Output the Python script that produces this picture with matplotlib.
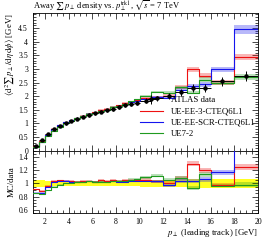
import numpy as np, matplotlib
matplotlib.use("Agg")
import matplotlib.pyplot as plt
from matplotlib.ticker import MultipleLocator

matplotlib.rcParams.update({
    "font.family": "serif", "font.serif": ["Liberation Serif", "DejaVu Serif"],
    "mathtext.fontset": "stix", "font.size": 6,
    "axes.linewidth": 0.6,
})

C_RED = "#ee1111"; C_BLUE = "#1515ee"; C_GREEN = "#1f9a1f"; C_BAND = "#ffff22"

# bin edges in leading-track pT [GeV]
edges = [1.0, 1.5, 2.0, 2.5, 3.0, 3.5, 4.0, 4.5, 5.0, 5.5, 6.0, 6.5, 7.0, 7.5, 8.0,
         8.5, 9.0, 9.5, 10.0, 11.0, 12.0, 13.0, 14.0, 15.0, 16.0, 18.0, 20.0]
# ATLAS data
data = [0.17, 0.39, 0.61, 0.78, 0.90, 1.00, 1.09, 1.17, 1.24, 1.31, 1.37, 1.43, 1.48,
        1.54, 1.60, 1.66, 1.71, 1.76, 1.84, 1.92, 2.00, 2.15, 2.29, 2.29, 2.55, 2.75]
data_err = [0.008, 0.018, 0.027, 0.035, 0.040, 0.045, 0.049, 0.053, 0.056, 0.059, 0.062,
            0.064, 0.067, 0.069, 0.072, 0.075, 0.077, 0.080, 0.09, 0.10, 0.11, 0.13,
            0.15, 0.15, 0.17, 0.19]
# MC predictions
mc_red = [0.155, 0.347, 0.59, 0.81, 0.945, 1.04, 1.13, 1.205, 1.29, 1.36, 1.41, 1.50, 1.54,
          1.62, 1.66, 1.74, 1.80, 1.85, 1.95, 1.98, 2.02, 2.34, 2.98, 2.75, 2.50, 3.44]
mc_blue = [0.146, 0.335, 0.58, 0.80, 0.935, 1.04, 1.12, 1.205, 1.265, 1.35, 1.40, 1.47, 1.51,
           1.59, 1.63, 1.71, 1.78, 1.83, 1.91, 1.98, 1.94, 2.24, 2.38, 2.43, 2.98, 4.45]
mc_green = [0.145, 0.325, 0.545, 0.74, 0.88, 1.00, 1.10, 1.19, 1.265, 1.35, 1.40, 1.47, 1.51,
            1.60, 1.65, 1.73, 1.81, 1.88, 2.02, 2.15, 2.12, 2.32, 2.13, 2.61, 2.47, 2.70]
# relative MC stat. uncertainty (shaded bands)
mc_relerr = [0.01, 0.01, 0.01, 0.01, 0.01, 0.01, 0.01, 0.01, 0.01, 0.012, 0.012, 0.012, 0.014,
             0.014, 0.015, 0.016, 0.017, 0.018, 0.02, 0.022, 0.025, 0.028, 0.03, 0.033, 0.03, 0.035]
labels = ["UE-EE-3-CTEQ6L1", "UE-EE-SCR-CTEQ6L1", "UE7-2"]

e = np.array(edges); d = np.array(data); de = np.array(data_err)
xc = 0.5 * (e[:-1] + e[1:]); xw = 0.5 * (e[1:] - e[:-1])
rel = np.array(mc_relerr)

fig = plt.figure(figsize=(2.66, 2.40), dpi=100)
ax = fig.add_axes([0.124, 0.372, 0.846, 0.574])
axr = fig.add_axes([0.124, 0.1125, 0.846, 0.2595], sharex=ax)

def steps(y):
    return np.append(y, y[-1])

# ratio band
axr.fill_between(e, steps(1 - de / d), steps(1 + de / d), step="post",
                 color=C_BAND, lw=0, zorder=1)

for mc, c, lab in zip([mc_red, mc_blue, mc_green], [C_RED, C_BLUE, C_GREEN], labels):
    m = np.array(mc)
    ax.fill_between(e, steps(m * (1 - rel)), steps(m * (1 + rel)), step="post",
                    color=c, alpha=0.3, lw=0, zorder=2)
    ax.step(e, steps(m), where="post", color=c, lw=0.8, zorder=3, label=lab)
    r = m / d
    axr.fill_between(e, steps(r * (1 - rel)), steps(r * (1 + rel)), step="post",
                     color=c, alpha=0.3, lw=0, zorder=2)
    axr.step(e, steps(r), where="post", color=c, lw=0.8, zorder=3)

ax.errorbar(xc, d, yerr=de, xerr=xw, fmt="o", color="black", ms=2.2, lw=0.7,
            capsize=0, zorder=5, label="ATLAS data")

ax.set_xlim(1, 20); ax.set_ylim(0, 5.05)
axr.set_ylim(0.55, 1.5)
ax.yaxis.set_major_locator(MultipleLocator(0.5)); ax.yaxis.set_minor_locator(MultipleLocator(0.1))
axr.yaxis.set_major_locator(MultipleLocator(0.2)); axr.yaxis.set_minor_locator(MultipleLocator(0.05))
axr.xaxis.set_major_locator(MultipleLocator(2)); axr.xaxis.set_minor_locator(MultipleLocator(0.5))
for a in (ax, axr):
    a.tick_params(which="both", direction="in", top=True, right=True, labelsize=5.6, width=0.5)
    a.tick_params(which="major", length=4.5)
    a.tick_params(which="minor", length=2.2)
ax.tick_params(labelbottom=False)
ax.set_yticks([0, 0.5, 1, 1.5, 2, 2.5, 3, 3.5, 4, 4.5])
ax.set_yticklabels(["0", "0.5", "1", "1.5", "2", "2.5", "3", "3.5", "4", "4.5"])
axr.set_yticks([0.6, 0.8, 1.0, 1.2, 1.4])
axr.set_yticklabels(["0.6", "0.8", "1", "1.2", "1.4"])

ax.set_title(r"Away $\sum\, p_\perp$ density vs. $p_\perp^{\mathrm{trk1}}$, $\sqrt{s}$ = 7 TeV",
             loc="left", fontsize=6.1, pad=1.5)
ax.set_ylabel(r"$\langle \mathrm{d}^2 \sum\, p_\perp / \mathrm{d}\eta\,\mathrm{d}\phi \rangle$ [GeV]",
              loc="top", fontsize=6.3, labelpad=2)
axr.set_ylabel("MC/data", fontsize=6.3, labelpad=2)
axr.set_xlabel(r"$p_\perp$ (leading track) [GeV]", loc="right", fontsize=6.3, labelpad=1)

h, l = ax.get_legend_handles_labels()
order = [3, 0, 1, 2]
ax.legend([h[i] for i in order], [l[i] for i in order], loc="upper left",
          bbox_to_anchor=(0.46, 0.42), frameon=False, fontsize=6.3,
          handlelength=2.6, handletextpad=0.9, labelspacing=0.35, borderaxespad=0)

fig.savefig("out.png", dpi=100)
